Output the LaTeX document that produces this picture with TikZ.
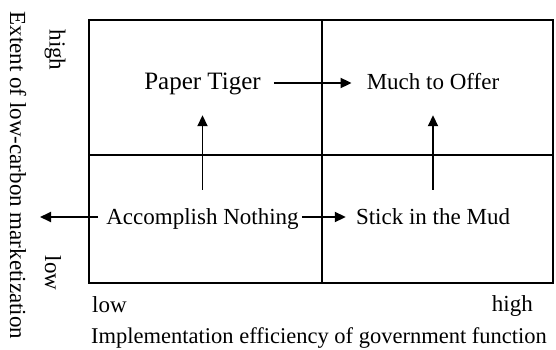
\documentclass[tikz,border=0pt]{standalone}
\usepackage{fontspec}
\setmainfont{Liberation Serif}
\usetikzlibrary{arrows.meta}
\begin{document}
\begin{tikzpicture}[x=1pt,y=-1pt,
  lbl/.style={font=\fontsize{23}{26}\selectfont, inner sep=0pt, text height=18pt, text depth=4pt},
  axl/.style={font=\fontsize{23}{26}\selectfont, inner sep=0pt},
  frame/.style={line width=1.9pt},
  arr/.style={line width=1.8pt, -{Triangle[length=11pt,width=10pt]}}]
\useasboundingbox (0,0) rectangle (556,350);
\draw[frame] (89,20) rectangle (553,283);
\draw[frame] (322,20) -- (322,283);
\draw[frame] (89,155) -- (553,155);

\node[lbl, font=\fontsize{25}{28}\selectfont, anchor=base] (pt) at (202.5,90) {Paper Tiger};
\node[lbl, anchor=base] (mo) at (433,90) {Much to Offer};
\node[lbl, anchor=base] (an) at (202.5,224) {Accomplish Nothing};
\node[lbl, anchor=base] (sm) at (433,224) {Stick in the Mud};
\coordinate (lend) at (40,217);

\draw[arr, shorten <=13pt, shorten >=15pt] (pt) -- (mo);
\draw[arr, shorten <=16pt, shorten >=21pt] (an) -- (pt);
\draw[arr, shorten <=16pt, shorten >=21pt] (sm) -- (mo);
\draw[arr, shorten <=3pt, shorten >=10pt] (an) -- (sm);
\draw[arr, shorten <=8pt] (an.west) -- (lend);

\node[axl, rotate=-90] (ylab) at (18,175.5) {Extent of low-carbon marketization};
\node[axl, rotate=-90] (yhi) at (55,50) {high};
\node[axl, rotate=-90] (ylo) at (53,273) {low};
\node[axl, anchor=base west] (xlo) at (92,312) {low};
\node[axl, anchor=base east] (xhi) at (533,311) {high};
\node[axl, anchor=base west, font=\fontsize{22.5}{26}\selectfont] (xlab) at (91,343) {Implementation efficiency of government function};
\end{tikzpicture}
\end{document}
